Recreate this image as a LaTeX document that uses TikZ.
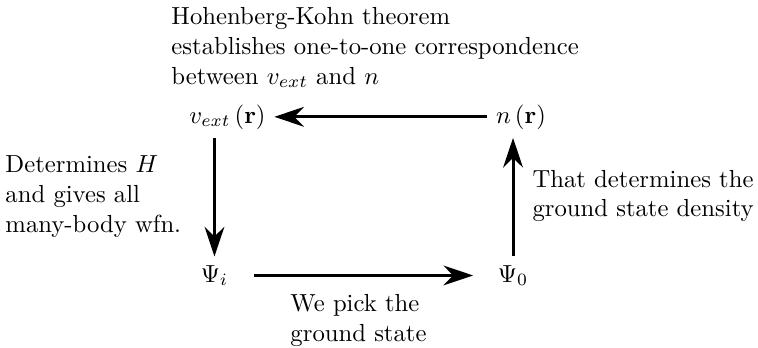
\documentclass[tikz,border=0pt]{standalone}
\usepackage{amsmath,amssymb}
\usepackage{tikz}
\usetikzlibrary{arrows.meta, positioning, calc}
\tikzset{
  qty/.style   = {anchor=base},
  note/.style  = {anchor=base west, inner sep=0pt, align=left},
  flow/.style  = {-{Stealth[length=12pt, width=8pt]}, very thick},
}

\begin{document}
\begin{tikzpicture}
  \useasboundingbox (0,0) rectangle (10.79,4.94);
  \node[qty] (vext) at (3.238,3.189) {$v_{ext}\left(\mathbf{r}\right)$};
  \node[qty] (dens) at (7.416,3.189) {$n\left(\mathbf{r}\right)$};
  \node[qty] (psii) at (3.053,0.925) {$\Psi_i$};
  \node[qty] (psig) at (7.303,0.925) {$\Psi_0$};

  % notes are anchored at the baseline of their last line
  \node[note] (hk) at (2.434,3.741) {Hohenberg-Kohn theorem\\
    establishes one-to-one correspondence\\between $v_{ext}$ and $n$};
  \node[note] (ham) at (0.071,1.634) {Determines $H$\\and gives all\\many-body wfn.};
  \node[note] (gsd) at (7.573,1.856) {That determines the\\ground state density};
  \node[note] (pick) at (4.128,0.077) {We pick the\\ground state};

  \draw[flow] (dens) -- (vext);
  \draw[flow] (vext.south -| psii.north) -- (psii.north);
  \draw[flow, shorten <=7pt, shorten >=6.5pt] (psii) -- (psig);
  \draw[flow] (psig.north) -- (psig.north |- dens.south);
\end{tikzpicture}
\end{document}
